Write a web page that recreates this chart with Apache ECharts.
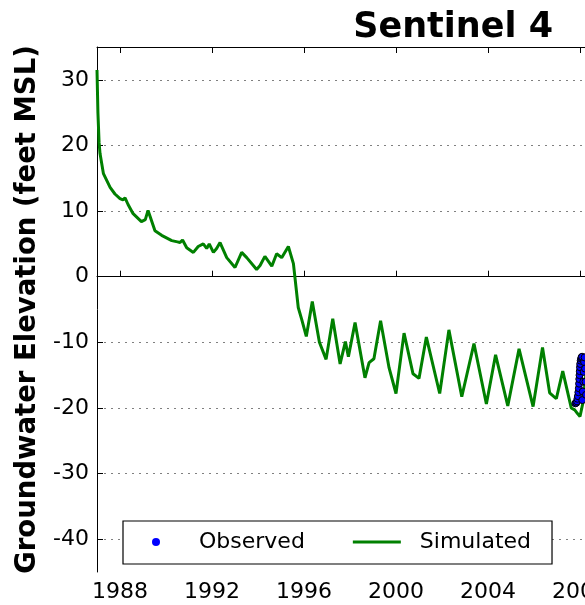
<!DOCTYPE html>
<html>
<head>
<meta charset="utf-8">
<script src="https://cdn.jsdelivr.net/npm/echarts@6/dist/echarts.min.js"></script>
<style>
html,body{margin:0;padding:0;background:#fff;}
#chart{width:585px;height:605px;}
</style>
</head>
<body>
<div id="chart"></div>
<script>
const titleText = "Sentinel 4";
const yAxisTitle = "Groundwater Elevation (feet MSL)";
const xTickValues = [1988, 1992, 1996, 2000, 2004, 2008, 2012];
const yTickValues = [-40, -30, -20, -10, 0, 10, 20, 30];

const simYears = [1987.00, 1987.04, 1987.09, 1987.13, 1987.28, 1987.57, 1987.78, 1988.00, 1988.13, 1988.22, 1988.35, 1988.57, 1988.93, 1989.10, 1989.22, 1989.30, 1989.52, 1989.81, 1990.25, 1990.50, 1990.61, 1990.72, 1990.90, 1991.19, 1991.40, 1991.62, 1991.77, 1991.88, 1992.06, 1992.20, 1992.35, 1992.64, 1993.00, 1993.29, 1993.51, 1993.94, 1994.09, 1994.30, 1994.60, 1994.81, 1995.03, 1995.32, 1995.40, 1995.54, 1995.75, 1995.90, 1996.10, 1996.36, 1996.67, 1996.96, 1997.25, 1997.57, 1997.80, 1997.93, 1998.22, 1998.65, 1998.83, 1999.04, 1999.33, 1999.70, 2000.00, 2000.35, 2000.74, 2001.00, 2001.32, 2001.90, 2002.30, 2002.86, 2003.39, 2003.93, 2004.33, 2004.86, 2005.35, 2005.96, 2006.37, 2006.68, 2006.97, 2007.25, 2007.62, 2007.77, 2007.90, 2008.00, 2008.14, 2008.25, 2008.40];
const simValues = [31.5, 25.0, 20.5, 18.8, 15.7, 13.6, 12.6, 11.9, 11.7, 12.0, 11.0, 9.6, 8.4, 8.7, 10.1, 9.8, 7.0, 6.3, 5.5, 5.3, 5.2, 5.6, 4.4, 3.7, 4.6, 5.0, 4.3, 5.0, 3.7, 4.3, 5.2, 2.9, 1.4, 3.7, 2.9, 1.1, 1.7, 3.1, 1.6, 3.5, 2.9, 4.6, 4.3, 2.0, -4.7, -6.5, -9.1, -3.8, -10.0, -12.6, -6.4, -13.3, -9.9, -12.2, -7.0, -15.4, -13.1, -12.5, -6.7, -13.9, -17.8, -8.6, -14.8, -15.5, -9.2, -17.8, -8.1, -18.3, -10.2, -19.4, -11.9, -19.7, -11.0, -19.8, -10.8, -17.7, -18.6, -14.4, -20.0, -20.3, -20.9, -21.3, -19.0, -15.0, -13.0];

const obsYears = [2007.80, 2007.84, 2007.87, 2007.89, 2007.91, 2007.93, 2007.95, 2007.96, 2007.97, 2007.98, 2007.99, 2008.00, 2008.01, 2008.03, 2008.05, 2008.07, 2008.09, 2008.10, 2008.12, 2008.14, 2008.16, 2008.18, 2008.20, 2008.22, 2008.24, 2008.26];
const obsValues = [-19.3, -19.2, -19.0, -18.6, -18.2, -17.6, -17.0, -16.3, -15.6, -15.0, -14.4, -13.8, -13.3, -12.8, -12.5, -12.3, -12.2, -18.8, -17.5, -16.0, -14.5, -13.0, -12.3, -14.0, -16.0, -18.0];

const simData = simYears.map((y, i) => [y, simValues[i]]);
const obsData = obsYears.map((y, i) => [y, obsValues[i]]);

const chart = echarts.init(document.getElementById('chart'), null, {renderer: 'canvas'});
const font = 'DejaVu Sans';
chart.setOption({
  animation: false,
  backgroundColor: '#ffffff',
  title: {
    text: titleText,
    right: 27,
    top: 5,
    textStyle: {fontFamily: font, fontWeight: 'bold', fontSize: 35, color: '#000'}
  },
  legend: {
    left: 123,
    top: 521,
    orient: 'horizontal',
    padding: [10, 21, 11, 29],
    borderColor: '#000',
    borderWidth: 1.2,
    borderRadius: 0,
    backgroundColor: '#fff',
    itemWidth: 48,
    itemHeight: 8,
    itemGap: 48,
    symbolKeepAspect: true,
    formatter: name => '{s|\u00a0}{t|' + name + '}',
    textStyle: {
      fontFamily: font, fontSize: 22, color: '#000',
      rich: {
        s: {width: 14, fontSize: 22, fontFamily: font},
        t: {fontFamily: font, fontSize: 22, color: '#000'}
      }
    },
    data: [
      {name: 'Observed', icon: 'circle', itemStyle: {color: '#0000ff', borderWidth: 0}},
      {name: 'Simulated', icon: 'path://M0,0 L48,0 L48,3 L0,3 Z', itemStyle: {color: '#008000', borderWidth: 0}}
    ]
  },
  grid: {left: 97, top: 47, width: 575, height: 525, containLabel: false, outerBoundsMode: 'none'},
  xAxis: [{
    type: 'value',
    min: 1987,
    max: 2012,
    position: 'bottom',
    axisLine: {show: true, lineStyle: {color: '#000', width: 1}},
    axisTick: {show: true, inside: true, length: 6, customValues: xTickValues, lineStyle: {color: '#000'}},
    axisLabel: {customValues: xTickValues, formatter: v => String(v), fontFamily: font, fontSize: 22, color: '#000', margin: 9},
    splitLine: {show: false}
  }, {
    type: 'value',
    min: 1987,
    max: 2012,
    position: 'top',
    axisLine: {show: true, lineStyle: {color: '#000', width: 1}},
    axisTick: {show: true, inside: true, length: 6, customValues: xTickValues, lineStyle: {color: '#000'}},
    axisLabel: {show: false},
    splitLine: {show: false}
  }],
  yAxis: {
    type: 'value',
    min: -45,
    max: 35,
    name: yAxisTitle,
    nameLocation: 'middle',
    nameGap: 52,
    nameRotate: 90,
    nameTextStyle: {fontFamily: font, fontWeight: 'bold', fontSize: 27.5, color: '#000'},
    axisLine: {show: true, lineStyle: {color: '#000', width: 1}},
    axisTick: {show: true, inside: true, length: 6, customValues: yTickValues, lineStyle: {color: '#000'}},
    axisLabel: {customValues: yTickValues, fontFamily: font, fontSize: 22, color: '#000', margin: 8},
    splitLine: {show: true, lineStyle: {color: '#808080', type: [2, 5], width: 1.2}}
  },
  series: [
    {
      name: 'Simulated',
      type: 'line',
      data: simData,
      symbol: 'none',
      smooth: false,
      lineStyle: {color: '#008000', width: 3},
      itemStyle: {color: '#008000'},
      clip: true,
      z: 2
    },
    {
      name: 'Observed',
      type: 'scatter',
      data: obsData,
      symbol: 'circle',
      symbolSize: 7,
      itemStyle: {color: '#0000ff', borderColor: '#000', borderWidth: 1, opacity: 1},
      clip: true,
      z: 3
    }
  ]
});
</script>
</body>
</html>
